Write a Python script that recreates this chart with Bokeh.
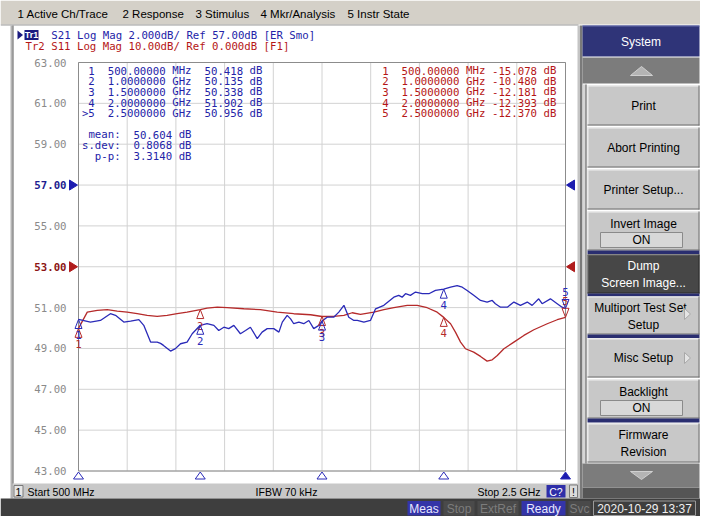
import numpy as np
from bokeh.plotting import figure
from bokeh.models import Range1d
from bokeh.embed import file_html
from bokeh.resources import INLINE
from bokeh.core.properties import value

# ---------------- data ----------------
s21_freq_ghz = [0.500, 0.549, 0.590, 0.631, 0.652, 0.686, 0.714, 0.748, 0.768, 0.796,
                0.823, 0.837, 0.849, 0.878, 0.898, 0.919, 0.946, 0.967, 1.000, 1.028,
                1.056, 1.076, 1.097, 1.117, 1.138, 1.165, 1.186, 1.206, 1.234, 1.254,
                1.275, 1.302, 1.323, 1.337, 1.357, 1.371, 1.384, 1.405, 1.425, 1.446,
                1.466, 1.487, 1.500, 1.521, 1.548, 1.569, 1.590, 1.610, 1.631, 1.645,
                1.672, 1.699, 1.720, 1.754, 1.795, 1.815, 1.829, 1.843, 1.863, 1.884,
                1.912, 1.939, 1.966, 2.000, 2.028, 2.055, 2.076, 2.096, 2.123, 2.151,
                2.178, 2.199, 2.212, 2.233, 2.261, 2.288, 2.315, 2.343, 2.363, 2.390,
                2.404, 2.438, 2.466, 2.486, 2.500]
s21_db = [50.418, 50.29, 50.37, 50.70, 50.62, 50.29, 50.34, 50.41, 50.13, 49.31,
          49.31, 49.25, 49.15, 48.87, 48.99, 49.23, 49.31, 49.72, 50.135, 50.21,
          50.13, 49.88, 50.04, 49.97, 50.13, 49.72, 49.88, 50.04, 49.48, 49.80,
          49.97, 49.97, 49.80, 50.29, 50.62, 50.45, 50.21, 50.29, 50.21, 50.37,
          49.97, 50.13, 50.338, 50.53, 50.53, 50.78, 51.11, 50.53, 50.37, 50.37,
          50.29, 50.37, 50.94, 51.11, 51.51, 51.60, 51.51, 51.68, 51.60, 51.76,
          51.68, 51.68, 51.84, 51.902, 52.00, 52.08, 52.00, 51.84, 51.60, 51.35,
          51.27, 51.35, 51.19, 51.02, 51.02, 51.27, 51.11, 51.27, 51.11, 51.43,
          51.19, 51.43, 51.19, 51.02, 50.956]

s11_freq_ghz = [0.500, 0.536, 0.577, 0.618, 0.659, 0.700, 0.741, 0.782, 0.823, 0.864,
                0.905, 0.946, 1.000, 1.028, 1.070, 1.111, 1.179, 1.247, 1.316, 1.384,
                1.453, 1.500, 1.548, 1.590, 1.624, 1.658, 1.713, 1.754, 1.795, 1.850,
                1.891, 1.932, 1.973, 2.000, 2.028, 2.048, 2.069, 2.089, 2.123, 2.151,
                2.178, 2.199, 2.220, 2.247, 2.288, 2.329, 2.370, 2.425, 2.466, 2.500]
s11_db = [-15.078, -11.11, -10.69, -10.52, -10.86, -11.11, -11.50, -11.92, -12.16, -11.92,
          -11.50, -11.11, -10.480, -10.13, -9.88, -10.03, -10.28, -10.52, -11.11, -11.50,
          -11.75, -12.181, -12.16, -11.92, -11.26, -11.67, -11.11, -10.52, -10.03, -9.47,
          -9.47, -10.03, -11.11, -12.393, -13.95, -16.01, -18.45, -20.07, -20.90, -21.95,
          -23.10, -22.77, -21.71, -20.07, -18.45, -16.81, -15.42, -13.95, -12.97, -12.370]

marker_ids = ["1", "2", "3", "4", "5"]
marker_freq_ghz = [0.5, 1.0, 1.5, 2.0, 2.5]
marker_s21_db = [50.418, 50.135, 50.338, 51.902, 50.956]
marker_s11_db = [-15.078, -10.480, -12.181, -12.393, -12.370]
active_marker = "5"

s21_mean = 50.604
s21_sdev = 0.8068
s21_pp = 3.3140

y_tick_values = [43, 45, 47, 49, 51, 53, 55, 57, 59, 61, 63]
y_tick_labels = ["43.00", "45.00", "47.00", "49.00", "51.00", "53.00",
                 "55.00", "57.00", "59.00", "61.00", "63.00"]
x_grid_ghz = [0.5, 0.7, 0.9, 1.1, 1.3, 1.5, 1.7, 1.9, 2.1, 2.3, 2.5]

s21_ref_db = 57.0          # Tr1: 2 dB/div, ref 57 dB
s11_ref_db = 0.0           # Tr2: 10 dB/div, ref 0 dB
s21_scale = 2.0
s11_scale = 10.0

menu_items = ["1 Active Ch/Trace", "2 Response", "3 Stimulus", "4 Mkr/Analysis", "5 Instr State"]
tr1_text = "S21 Log Mag 2.000dB/ Ref 57.00dB [ER Smo]"
tr2_text = "Tr2 S11 Log Mag 10.00dB/ Ref 0.000dB [F1]"

# ---------------- layout (screen pixel coordinates) ----------------
CX0, CX1, CY0, CY1 = 0, 700, 0, 516
GX0, GX1, GY0, GY1 = 78.0, 565.0, 62.0, 470.5  # graticule
F0, F1 = 0.5, 2.5
D0, D1 = 43.0, 63.0
ppf = (GX1 - GX0) / (F1 - F0)   # px per GHz
ppd = (GY1 - GY0) / (D1 - D0)   # px per displayed dB

f_range = Range1d(F0 - (GX0 - CX0) / ppf, F1 + (CX1 - GX1) / ppf)
d_range = Range1d(D0 - (CY1 - GY1) / ppd, D1 + (GY0 - CY0) / ppd)
# S11 shares the screen: its ref (0 dB) sits at the 53.00 line, 10 dB per 2-dB division
S11_POS = 53.0
k = s11_scale / s21_scale
s_range = Range1d((d_range.start - S11_POS) * k + s11_ref_db, (d_range.end - S11_POS) * k + s11_ref_db)

p = figure(width=CX1 - CX0, height=CY1 - CY0,
           x_range=Range1d(CX0, CX1), y_range=Range1d(CY1, CY0),
           output_backend="svg", toolbar_location=None, min_border=0,
           x_axis_type=None, y_axis_type=None, outline_line_color=None,
           background_fill_color="white", border_fill_color="white")
p.extra_x_ranges = {"f": f_range}
p.extra_y_ranges = {"db": d_range, "s11": s_range}

MONO = "DejaVu Sans Mono"
SANS = "Liberation Sans"
CW = 6.45
BLUE_T = "#2323a8"
RED_T = "#b51616"
BLUE_L = "#2a2ab8"
RED_L = "#b52a2a"


def box(l, r, t, b, fill, line=None, lw=1):
    p.quad(left=l, right=r, top=t, bottom=b, fill_color=fill, line_color=line, line_width=lw)


def hline(x0, x1, y, color, w=1):
    p.segment(x0=[x0], y0=[y], x1=[x1], y1=[y], line_color=color, line_width=w)


def vline(x, y0, y1, color, w=1):
    p.segment(x0=[x], y0=[y0], x1=[x], y1=[y1], line_color=color, line_width=w)


def txt(x, y, s, color="black", size=11.5, font=SANS, align="left", baseline="middle", style="normal"):
    p.text(x=[x], y=[y], text=[s], text_color=color, text_font_size=f"{size}px",
           text_font=value(font), text_align=align, text_baseline=baseline, text_font_style=style)


def button(l, r, t, b, face="#c8c8c8", hi="#f0f0f0", lo="#6e6e6e"):
    box(l, r, t, b, face)
    hline(l, r, t + 0.5, hi)
    vline(l + 0.5, t, b, hi)
    hline(l, r, b - 0.5, lo)
    vline(r - 0.5, t, b, lo)


def tri(pts, fill, line=None):
    p.patch(x=[q[0] for q in pts], y=[q[1] for q in pts], fill_color=fill, line_color=line)


# ---------------- chrome ----------------
box(CX0, CX1, CY0, 24, "#d4d0c8")
hline(CX0, 578, 24.5, "#9a9a9a")
menu_x = [17, 122, 195, 260, 347]
for mx, item in zip(menu_x, menu_items):
    txt(mx, 13, item, "black", 11.5)

# channel window frame
box(10, 13, 25, 498, "#b4b4b4")
vline(12.5, 25, 483, "#808080")
box(577, 579.5, 25, 498, "#c4c4c4")
box(579.5, 582, 25, 498, "#7a7a7a")

# header lines
tri([(17, 30), (22.5, 34.5), (17, 39)], "#1a1a80")
box(24, 38, 29.5, 39.5, "#1a1a80")
txt(31, 34.5, "Tr1", "white", 9, SANS, align="center", style="bold")
txt(25 + 4 * CW, 34.5, tr1_text, BLUE_T, 10.7, MONO)
txt(25, 45.5, tr2_text, RED_T, 10.7, MONO)

# channel bottom bar
box(13, 577, 483, 498, "#c8c8c8")
box(13.5, 22.5, 485, 496.5, "#e6e6e6", "#7a7a7a")
txt(18, 491, "1", "black", 10.5, align="center")
txt(27, 491, "Start 500 MHz", "black", 10.5)
txt(286, 491, "IFBW 70 kHz", "black", 10.5, align="center")
txt(540, 491, "Stop 2.5 GHz", "black", 10.5, align="right")
box(546, 565, 484.5, 497, "#2e2ea8")
txt(555.5, 491, "C?", "white", 10.5, align="center")
box(569, 577, 484.5, 497, "#dcdcdc", "#7a7a7a")
txt(573, 491, "!", "black", 10.5, align="center")

# status bar
box(CX0, CX1, 498, CY1, "#3e3e3e")
PX0, PX1 = 582, 699
box(PX0, PX1, 487, 498, "#555555")
status = [("Meas", 407, 440, "#3434a8", "#e8e8ff"), ("Stop", 443, 474, "#4a4a4a", "#7c7c7c"),
          ("ExtRef", 477, 518, "#4a4a4a", "#7c7c7c"), ("Ready", 521, 565, "#3434a8", "#e8e8ff"),
          ("Svc", 568, 590, "#4a4a4a", "#7c7c7c")]
for s, l, r, bg, fg in status:
    box(l, r, 500.5, 515, bg)
    txt((l + r) / 2, 508, s, fg, 12, align="center")
box(593, 695, 500.5, 515, "#3e3e3e", "#9a9a9a")
txt(644, 508, "2020-10-29 13:37", "#f0f0f0", 12, align="center")

# softkey panel
box(PX0, PX1, 25, 56, "#2f3478")
hline(PX0, PX1, 25.5, "#6a70b0")
txt((PX0 + PX1) / 2, 41, "System", "white", 12, align="center")
box(PX0, PX1, 57, 83, "#7c7c7c")
tri([(630, 75), (641, 66), (652, 75)], "#b4b4b4", "#d0d0d0")
box(582, 586, 84, 463, "#d6d6d6")
vline(585.5, 84, 463, "#5a5a5a")

BX0, BX1 = 587, PX1
BC = (BX0 + BX1) / 2
button(BX0, BX1, 85, 125)
txt(BC, 105, "Print", "black", 12, align="center")
button(BX0, BX1, 127, 167)
txt(BC, 147, "Abort Printing", "black", 12, align="center")
button(BX0, BX1, 169, 209)
txt(BC, 189, "Printer Setup...", "black", 12, align="center")
button(BX0, BX1, 211, 250)
txt(BC, 223, "Invert Image", "black", 12, align="center")
box(600, 682, 232, 247, "#d8d8d8", "#8a8a8a")
txt(641, 239.5, "ON", "black", 12, align="center")
box(BX0, BX1, 250, 253.5, "#2a2e70")
button(BX0, BX1, 254, 293, face="#474747", hi="#6a6a6a", lo="#2a2a2a")
txt(BC, 265, "Dump", "white", 12, align="center")
txt(BC, 282, "Screen Image...", "white", 12, align="center")
box(BX0, BX1, 293, 296, "#2a2e70")
button(BX0, BX1, 296, 334)
txt(BC - 3, 307, "Multiport Test Set", "black", 12, align="center")
txt(BC, 324, "Setup", "black", 12, align="center")
tri([(684, 308), (690, 313.5), (684, 319)], "#e4e4e4", "#a8a8a8")
box(BX0, BX1, 334, 337.5, "#2a2e70")
button(BX0, BX1, 338, 377)
txt(BC, 357, "Misc Setup", "black", 12, align="center")
tri([(684, 352), (690, 357.5), (684, 363)], "#e4e4e4", "#a8a8a8")
button(BX0, BX1, 379, 418)
txt(BC, 391, "Backlight", "black", 12, align="center")
box(600, 682, 400, 415, "#d8d8d8", "#8a8a8a")
txt(641, 407.5, "ON", "black", 12, align="center")
box(BX0, BX1, 418, 422, "#2a2e70")
button(BX0, BX1, 423, 462)
txt(BC, 434, "Firmware", "black", 12, align="center")
txt(BC, 451, "Revision", "black", 12, align="center")
box(PX0, PX1, 463, 487, "#7c7c7c")
tri([(630, 471), (641, 479), (652, 471)], "#b4b4b4", "#d0d0d0")

# ---------------- graticule (data space) ----------------
p.segment(x0=x_grid_ghz, y0=[D0] * len(x_grid_ghz), x1=x_grid_ghz, y1=[D1] * len(x_grid_ghz),
          line_color="#d2d2d2", line_width=1, x_range_name="f", y_range_name="db")
p.segment(x0=[F0] * len(y_tick_values), y0=y_tick_values, x1=[F1] * len(y_tick_values), y1=y_tick_values,
          line_color="#d2d2d2", line_width=1, x_range_name="f", y_range_name="db")
p.quad(left=[F0], right=[F1], bottom=[D0], top=[D1], fill_color=None, line_color="#8c8c8c",
       line_width=1, x_range_name="f", y_range_name="db")

tick_colors = ["#8a8a8a"] * len(y_tick_values)
tick_colors[y_tick_values.index(int(s21_ref_db))] = "#1c1c90"
tick_colors[y_tick_values.index(int(S11_POS))] = "#8c1414"
tick_styles = ["normal"] * len(y_tick_values)
tick_styles[y_tick_values.index(int(s21_ref_db))] = "bold"
tick_styles[y_tick_values.index(int(S11_POS))] = "bold"
p.text(x=[F0] * len(y_tick_values), y=y_tick_values, text=y_tick_labels, x_offset=-12,
       text_align="right", text_baseline="middle", text_font=value(MONO), text_font_size="10.7px",
       text_color=tick_colors, text_font_style=tick_styles, x_range_name="f", y_range_name="db")

# reference-level pointers
dxp, dyp = 1 / ppf, 1 / ppd
for side in (-1, 1):
    fe = F0 if side < 0 else F1
    p.patch(x=[fe + side * 9 * dxp, fe + side * 1 * dxp, fe + side * 9 * dxp],
            y=[s21_ref_db + 5 * dyp, s21_ref_db, s21_ref_db - 5 * dyp],
            fill_color="#1c1cb0", line_color="#1c1cb0", x_range_name="f", y_range_name="db")
    p.patch(x=[fe + side * 9 * dxp, fe + side * 1 * dxp, fe + side * 9 * dxp],
            y=[s11_ref_db + 5 * dyp * k, s11_ref_db, s11_ref_db - 5 * dyp * k],
            fill_color="#b01c1c", line_color="#b01c1c", x_range_name="f", y_range_name="s11")

# stimulus markers along the bottom
for mid, mf in zip(marker_ids, marker_freq_ghz):
    p.patch(x=[mf - 5 * dxp, mf, mf + 5 * dxp], y=[D0 - 8 * dyp, D0 - 1 * dyp, D0 - 8 * dyp],
            fill_color="#1c1cb0" if mid == active_marker else "white", line_color="#2a2ab8",
            line_width=1, x_range_name="f", y_range_name="db")

# ---------------- traces ----------------
p.line(s11_freq_ghz, s11_db, line_color=RED_L, line_width=1.3, x_range_name="f", y_range_name="s11")
p.line(s21_freq_ghz, s21_db, line_color=BLUE_L, line_width=1.3, x_range_name="f", y_range_name="db")

# trace markers
for rng, vals, col, kk in (("s11", marker_s11_db, RED_L, k), ("db", marker_s21_db, BLUE_L, 1.0)):
    for mid, mf, mv in zip(marker_ids, marker_freq_ghz, vals):
        d = -1 if mid != active_marker else 1
        p.patch(x=[mf - 3.5 * dxp, mf, mf + 3.5 * dxp],
                y=[mv + d * 9 * dyp * kk, mv, mv + d * 9 * dyp * kk],
                fill_color=None, line_color=col, line_width=1, x_range_name="f", y_range_name=rng)
        p.text(x=[mf], y=[mv], text=[mid], y_offset=(16 if mid != active_marker else -16),
               text_align="center", text_baseline="middle", text_font=value(MONO),
               text_font_size="10.7px", text_color=col, x_range_name="f", y_range_name=rng)

# ---------------- marker tables ----------------
ROWS = [70, 80.7, 91.4, 102.1, 112.8]
BX, RX = 81.4, 381.7


def freq_label(f):
    return (f"{f * 1000:.5f}", "MHz") if f < 1 else (f"{f:.7f}", "GHz")


for i, (mid, mf, v21, v11) in enumerate(zip(marker_ids, marker_freq_ghz, marker_s21_db, marker_s11_db)):
    y = ROWS[i]
    fs, unit = freq_label(mf)
    pre = (">" + mid) if mid == active_marker else mid
    txt(BX + 2 * CW, y, pre, BLUE_T, 10.7, MONO, align="right")
    txt(BX + 4 * CW, y, fs, BLUE_T, 10.7, MONO)
    txt(BX + 14 * CW, y, unit, BLUE_T, 10.7, MONO)
    txt(BX + 25 * CW, y, f"{v21:.3f}", BLUE_T, 10.7, MONO, align="right")
    txt(BX + 26 * CW, y, "dB", BLUE_T, 10.7, MONO)
    txt(RX + 1 * CW, y, mid, RED_T, 10.7, MONO, align="right")
    txt(RX + 3 * CW, y, fs, RED_T, 10.7, MONO)
    txt(RX + 13 * CW, y, unit, RED_T, 10.7, MONO)
    txt(RX + 24 * CW, y, f"{v11:.3f}", RED_T, 10.7, MONO, align="right")
    txt(RX + 25 * CW, y, "dB", RED_T, 10.7, MONO)

stats = [("mean:", f"{s21_mean:.3f}"), ("s.dev:", f"{s21_sdev:.4f}"), ("p-p:", f"{s21_pp:.4f}")]
for (lab, val), y in zip(stats, [134.2, 144.9, 155.6]):
    txt(BX + 6 * CW, y, lab, BLUE_T, 10.7, MONO, align="right")
    txt(BX + 8 * CW, y, val, BLUE_T, 10.7, MONO)
    txt(BX + 15 * CW, y, "dB", BLUE_T, 10.7, MONO)

open("out.html", "w").write(file_html(p, INLINE))
